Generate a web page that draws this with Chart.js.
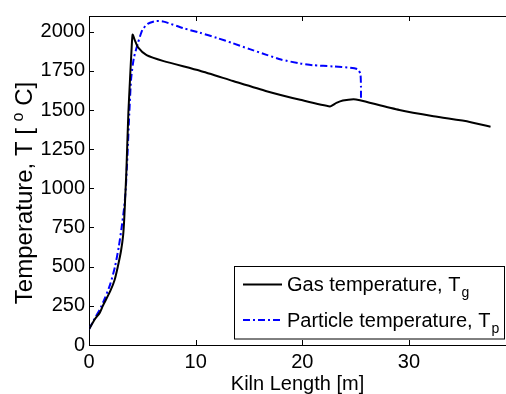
<!DOCTYPE html>
<html>
<head>
<meta charset="utf-8">
<script src="https://cdn.jsdelivr.net/npm/chart.js@4.4.1/dist/chart.umd.min.js"></script>
<style>
  html, body { margin: 0; padding: 0; background: #fff; }
  #wrap { width: 506px; height: 394px; position: relative; }
</style>
</head>
<body>
<div id="wrap"><canvas id="chart"></canvas></div>
<script>
// gas temperature along the kiln
const gasX = [0, 0.5, 1.0, 1.3, 2.0, 2.4, 2.7, 3.0, 3.2, 3.3, 3.4, 3.5, 3.69, 3.84, 4.0, 4.09,
  4.3, 4.6, 5.4, 7.0, 10.4, 13.5, 16.65, 19.8, 22.6, 23.2, 23.8, 24.8, 25.4, 29.1, 32.3, 35.7, 37.65];
const gasY = [100, 160, 205, 250, 345, 415, 500, 600, 700, 800, 950, 1100, 1480, 1690, 1900, 1981,
  1945, 1900, 1850, 1812, 1750, 1685, 1620, 1565, 1523, 1545, 1560, 1569, 1562, 1500, 1460, 1424, 1393];

// particle temperature
const partX = [0, 0.5, 1.0, 1.5, 2.0, 2.44, 2.8, 3.06, 3.3, 3.45, 3.6, 3.78, 3.95, 4.2, 4.6, 5.0,
  5.5, 6.3, 7.0, 8.8, 10.4, 12.0, 13.5, 15.0, 16.65, 18.0, 19.8, 21.0, 22.9, 24.5, 25.2, 25.45, 25.5, 25.5];
const partY = [100, 165, 225, 300, 390, 500, 630, 750, 880, 1000, 1200, 1480, 1700, 1830, 1930, 2010,
  2050, 2068, 2064, 2023, 1993, 1960, 1926, 1890, 1852, 1822, 1797, 1786, 1778, 1770, 1760, 1730, 1650, 1565];

const xTicks = [0, 10, 20, 30];
const yTicks = [0, 250, 500, 750, 1000, 1250, 1500, 1750, 2000];
const seriesNames = ["Gas temperature, T", "Particle temperature, T"];
const seriesSubs = ["g", "p"];

const toPoints = (xs, ys) => xs.map((x, i) => ({ x: x, y: ys[i] }));

const font = "'Liberation Sans', Arial, sans-serif";

const decor = {
  id: "decor",
  afterDraw(chart) {
    const { ctx, chartArea: a, scales: { x, y } } = chart;
    ctx.save();
    ctx.strokeStyle = "#000";
    ctx.lineWidth = 1;
    ctx.beginPath();
    // top border
    ctx.moveTo(a.left, a.top + 0.5);
    ctx.lineTo(a.right, a.top + 0.5);
    // inward ticks
    x.ticks.forEach(t => {
      const px = Math.round(x.getPixelForValue(t.value)) + 0.5;
      ctx.moveTo(px, a.bottom); ctx.lineTo(px, a.bottom - 5);
      ctx.moveTo(px, a.top); ctx.lineTo(px, a.top + 5);
    });
    y.ticks.forEach(t => {
      const py = Math.round(y.getPixelForValue(t.value)) + 0.5;
      ctx.moveTo(a.left, py); ctx.lineTo(a.left + 5, py);
    });
    ctx.stroke();

    // y axis title with superscript
    ctx.save();
    ctx.translate(32, 193);
    ctx.rotate(-Math.PI / 2);
    ctx.fillStyle = "#000";
    ctx.textBaseline = "alphabetic";
    const p1 = "Temperature, T [ ", p2 = "o", p3 = " C]";
    ctx.font = "24px " + font;
    const w1 = ctx.measureText(p1).width, w3 = ctx.measureText(p3).width;
    ctx.font = "16px " + font;
    const w2 = ctx.measureText(p2).width;
    let sx = -(w1 + w2 + w3) / 2;
    ctx.font = "24px " + font;
    ctx.fillText(p1, sx, 0);
    ctx.font = "16px " + font;
    ctx.fillText(p2, sx + w1, -9);
    ctx.font = "24px " + font;
    ctx.fillText(p3, sx + w1 + w2, 0);
    ctx.restore();

    // legend box
    const bx = 234.5, by = 266.5, bw = 270, bh = 72.5;
    ctx.fillStyle = "#fff";
    ctx.fillRect(bx, by, bw, bh);
    ctx.strokeRect(bx, by, bw, bh);
    const rows = [284.5, 320];
    chart.data.datasets.forEach((ds, i) => {
      ctx.save();
      ctx.strokeStyle = ds.borderColor;
      ctx.lineWidth = ds.borderWidth;
      ctx.setLineDash(ds.borderDash || []);
      ctx.beginPath();
      ctx.moveTo(243, rows[i]);
      ctx.lineTo(282, rows[i]);
      ctx.stroke();
      ctx.restore();
      ctx.fillStyle = "#000";
      ctx.font = "20px " + font;
      const base = rows[i] + 6.5;
      ctx.fillText(seriesNames[i], 287, base);
      const tw = ctx.measureText(seriesNames[i]).width;
      ctx.font = "14px " + font;
      ctx.fillText(seriesSubs[i], 287 + tw + 1, base + 6);
    });
    ctx.restore();
  }
};

new Chart(document.getElementById("chart"), {
  type: "line",
  data: {
    datasets: [
      {
        label: seriesNames[0],
        data: toPoints(gasX, gasY),
        borderColor: "#000000",
        borderWidth: 2,
        pointRadius: 0,
        tension: 0.2,
      },
      {
        label: seriesNames[1],
        data: toPoints(partX, partY),
        borderColor: "#0000ff",
        borderWidth: 2,
        borderDash: [7, 3, 2, 3],
        pointRadius: 0,
        tension: 0.2,
      },
    ],
  },
  options: {
    responsive: true,
    maintainAspectRatio: false,
    animation: false,
    layout: { padding: { top: 12, right: 0, left: 0, bottom: 0 } },
    plugins: { legend: { display: false }, tooltip: { enabled: false } },
    scales: {
      x: {
        type: "linear",
        min: 0,
        max: 39.1,
        afterBuildTicks: s => { s.ticks = xTicks.map(v => ({ value: v })); },
        afterFit: s => { s.height = 49; },
        grid: { display: true, drawOnChartArea: false, drawTicks: false },
        border: { display: true, color: "#000", width: 1 },
        ticks: { color: "#000", padding: 5, maxRotation: 0, font: { family: font, size: 20 },
          callback: v => String(v) },
        title: {
          display: true,
          text: "Kiln Length [m]",
          color: "#000",
          padding: { top: 0, bottom: 0 },
          font: { family: font, size: 20, lineHeight: 1 },
        },
      },
      y: {
        min: 0,
        max: 2100,
        afterBuildTicks: s => { s.ticks = yTicks.map(v => ({ value: v })); },
        afterFit: s => { s.width = 89; },
        grid: { display: true, drawOnChartArea: false, drawTicks: false },
        border: { display: true, color: "#000", width: 1 },
        ticks: { color: "#000", padding: 4, font: { family: font, size: 20 },
          callback: v => String(v) },
      },
    },
  },
  plugins: [decor],
});
</script>
</body>
</html>
